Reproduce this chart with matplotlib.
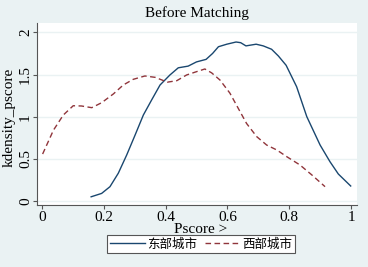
import matplotlib
matplotlib.use("Agg")
import matplotlib.pyplot as plt

# eastern cities (solid)
east_x = [0.159, 0.193, 0.22, 0.247, 0.274, 0.301, 0.328, 0.355, 0.382, 0.414, 0.441, 0.473,
          0.5, 0.531, 0.552, 0.571, 0.598, 0.628, 0.643, 0.66, 0.693, 0.716, 0.743, 0.765,
          0.79, 0.824, 0.857, 0.9, 0.932, 0.959, 0.999]
east_y = [0.05, 0.09, 0.17, 0.33, 0.545, 0.78, 1.02, 1.20, 1.376, 1.495, 1.58, 1.60,
          1.65, 1.68, 1.75, 1.83, 1.86, 1.886, 1.878, 1.84, 1.86, 1.84, 1.80, 1.72,
          1.61, 1.356, 1.00, 0.664, 0.466, 0.32, 0.178]

# western cities (dashed)
west_x = [0.002, 0.037, 0.069, 0.101, 0.128, 0.161, 0.193, 0.231, 0.263, 0.295, 0.333, 0.366,
          0.406, 0.436, 0.468, 0.5, 0.527, 0.549, 0.576, 0.608, 0.635, 0.662, 0.695, 0.727,
          0.76, 0.792, 0.835, 0.873, 0.916]
west_y = [0.557, 0.84, 1.02, 1.13, 1.127, 1.107, 1.166, 1.27, 1.376, 1.443, 1.483, 1.467,
          1.41, 1.427, 1.495, 1.534, 1.566, 1.52, 1.435, 1.28, 1.10, 0.92, 0.763, 0.664,
          0.605, 0.526, 0.427, 0.31, 0.17]

xticks = [0, 0.2, 0.4, 0.6, 0.8, 1]
xticklabels = ['0', '0.2', '0.4', '0.6', '0.8', '1']
yticks = [0, 0.5, 1, 1.5, 2]
yticklabels = ['0', '0.5', '1', '1.5', '2']

bg = '#eaf2f3'
plt.rcParams['font.family'] = ['Liberation Serif', 'Noto Sans CJK SC']

fig = plt.figure(figsize=(3.68, 2.67), dpi=100, facecolor=bg)
ax = fig.add_axes([37/368, 1 - 205/267, (357-37)/368, (205-23)/267])
ax.set_facecolor('white')

ax.plot(east_x, east_y, color='#1a476f', lw=1.0, label='东部城市')
ax.plot(west_x, west_y, color='#90353b', lw=1.0, ls=(0, (4, 2.5)), label='西部城市')

ax.set_xlim((37-42)/309, (357-42)/309)
ax.set_ylim((201-205)/84.3, (201-23)/84.3)

ax.set_xticks(xticks)
ax.set_xticklabels(xticklabels)
ax.set_yticks(yticks)
ax.set_yticklabels(yticklabels, rotation=90, va='center')
ax.tick_params(labelsize=11, length=3, width=0.8, color='#555555', pad=1.5)
ax.tick_params(axis='y', pad=0.5)
ax.grid(axis='y', color=bg, lw=1.0)
ax.set_axisbelow(True)

for s in ['top', 'right']:
    ax.spines[s].set_visible(False)
for s in ['left', 'bottom']:
    ax.spines[s].set_color('#555555')
    ax.spines[s].set_linewidth(0.8)

ax.set_title('Before Matching', fontsize=11, pad=4)
ax.set_xlabel('Pscore >', fontsize=11)
ax.xaxis.set_label_coords(0.5125, -0.1)
ax.set_ylabel('kdensity_pscore', fontsize=11)
ax.yaxis.set_label_coords(-0.066, 0.48)

leg = fig.legend(loc='center', bbox_to_anchor=(201/368, 1 - 244/267), ncol=2,
                 fancybox=False, edgecolor='#555555', framealpha=1,
                 prop={'family': 'Noto Sans CJK SC', 'size': 9},
                 handlelength=2.8, handletextpad=0.2, columnspacing=0.6,
                 borderpad=0.2, borderaxespad=0)
leg.get_frame().set_linewidth(0.8)

fig.savefig('out.png', dpi=100, facecolor=bg)
